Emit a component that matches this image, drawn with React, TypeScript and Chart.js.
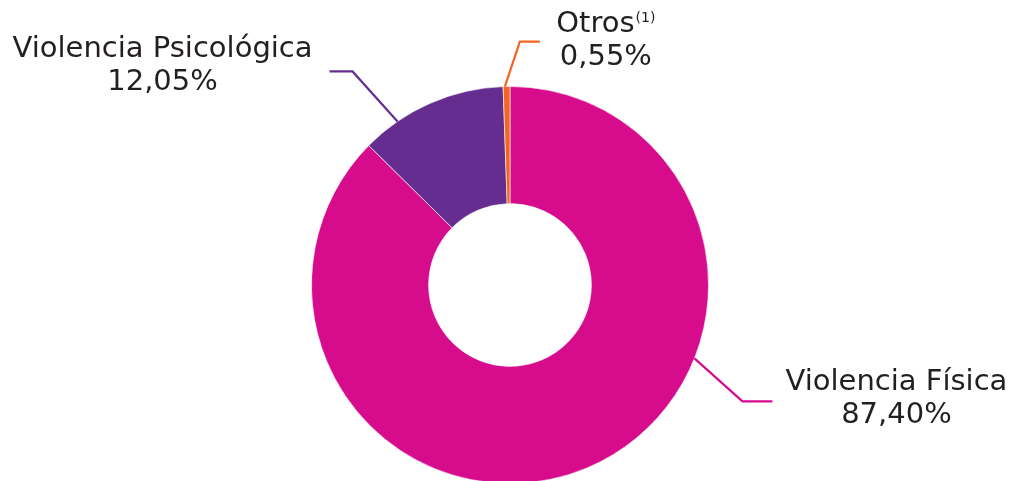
import React, { useEffect, useRef } from "react";
import { Chart, registerables } from "chart.js";

Chart.register(...registerables);

const categories = ["Violencia Física", "Violencia Psicológica", "Otros"];
const values = [87.4, 12.05, 0.55];
const valueLabels = ["87,40%", "12,05%", "0,55%"];
const notes = ["", "", "(1)"];
const colors = ["#D70C8C", "#662D91", "#F26522"];

// leader line / label layout (style only)
const leaders = [
  { t: 0.355, ex: 48, ey: 43, h: 30, tx: 124, ty1: -11, ty2: 22 },
  { t: 0.25, ex: -45, ey: -50, h: -23, tx: -167, ty1: -14, ty2: 19 },
  { t: 0.25, ex: 15, ey: -45, h: 20, tx: 66, ty1: -10, ty2: 23 },
];

const FONT = '"DejaVu Sans", sans-serif';
const TEXT_COLOR = "#231F20";
const SIZE = 29;

const labelPlugin = {
  id: "leaderLabels",
  afterDraw(chart: any) {
    const ctx = chart.ctx as CanvasRenderingContext2D;
    const meta = chart.getDatasetMeta(0);
    meta.data.forEach((arc: any, i: number) => {
      const p = arc.getProps(["x", "y", "startAngle", "endAngle", "outerRadius"], true);
      const L = leaders[i];
      const a = p.startAngle + L.t * (p.endAngle - p.startAngle);
      const r = p.outerRadius;
      const x0 = p.x + Math.cos(a) * r;
      const y0 = p.y + Math.sin(a) * r;
      const x1 = x0 + L.ex;
      const y1 = y0 + L.ey;
      const x2 = x1 + L.h;
      const y2 = y1;
      ctx.save();
      ctx.strokeStyle = colors[i];
      ctx.lineWidth = 2.2;
      ctx.lineJoin = "miter";
      ctx.beginPath();
      ctx.moveTo(x0, y0);
      ctx.lineTo(x1, y1);
      ctx.lineTo(x2, y2);
      ctx.stroke();

      ctx.fillStyle = TEXT_COLOR;
      ctx.textBaseline = "alphabetic";
      const cx = x2 + L.tx;
      ctx.font = `400 ${SIZE}px ${FONT}`;
      const name = categories[i];
      const note = notes[i];
      if (note) {
        const w1 = ctx.measureText(name).width;
        ctx.font = `400 14px ${FONT}`;
        const w2 = ctx.measureText(note).width;
        const total = w1 + w2 + 1;
        ctx.textAlign = "left";
        ctx.font = `400 ${SIZE}px ${FONT}`;
        ctx.fillText(name, cx - total / 2, y2 + L.ty1);
        ctx.font = `400 14px ${FONT}`;
        ctx.fillText(note, cx - total / 2 + w1 + 1, y2 + L.ty1 - 10);
      } else {
        ctx.textAlign = "center";
        ctx.fillText(name, cx, y2 + L.ty1);
      }
      ctx.font = `400 ${SIZE}px ${FONT}`;
      ctx.textAlign = "center";
      ctx.fillText(valueLabels[i], cx, y2 + L.ty2);
      ctx.restore();
    });
  },
};

export default function App() {
  const ref = useRef<HTMLCanvasElement | null>(null);
  useEffect(() => {
    if (!ref.current) return;
    const chart = new Chart(ref.current, {
      type: "doughnut",
      data: {
        labels: categories,
        datasets: [
          {
            data: values,
            backgroundColor: colors,
            borderColor: "rgba(255,255,255,0.6)",
            borderWidth: 1,
          },
        ],
      },
      options: {
        responsive: false,
        animation: false,
        devicePixelRatio: 1,
        cutout: "41%",
        layout: { padding: { top: 86, bottom: 16, left: 7, right: 0 } },
        plugins: {
          legend: { display: false },
          tooltip: { enabled: false },
        },
      },
      plugins: [labelPlugin],
    });
    return () => chart.destroy();
  }, []);
  return (
    <div
      style={{
        position: "absolute",
        left: 0,
        top: 0,
        width: 1013,
        height: 481,
        overflow: "hidden",
        background: "#fff",
      }}
    >
      <canvas ref={ref} width={1013} height={500} style={{ width: 1013, height: 500, display: "block" }} />
    </div>
  );
}
